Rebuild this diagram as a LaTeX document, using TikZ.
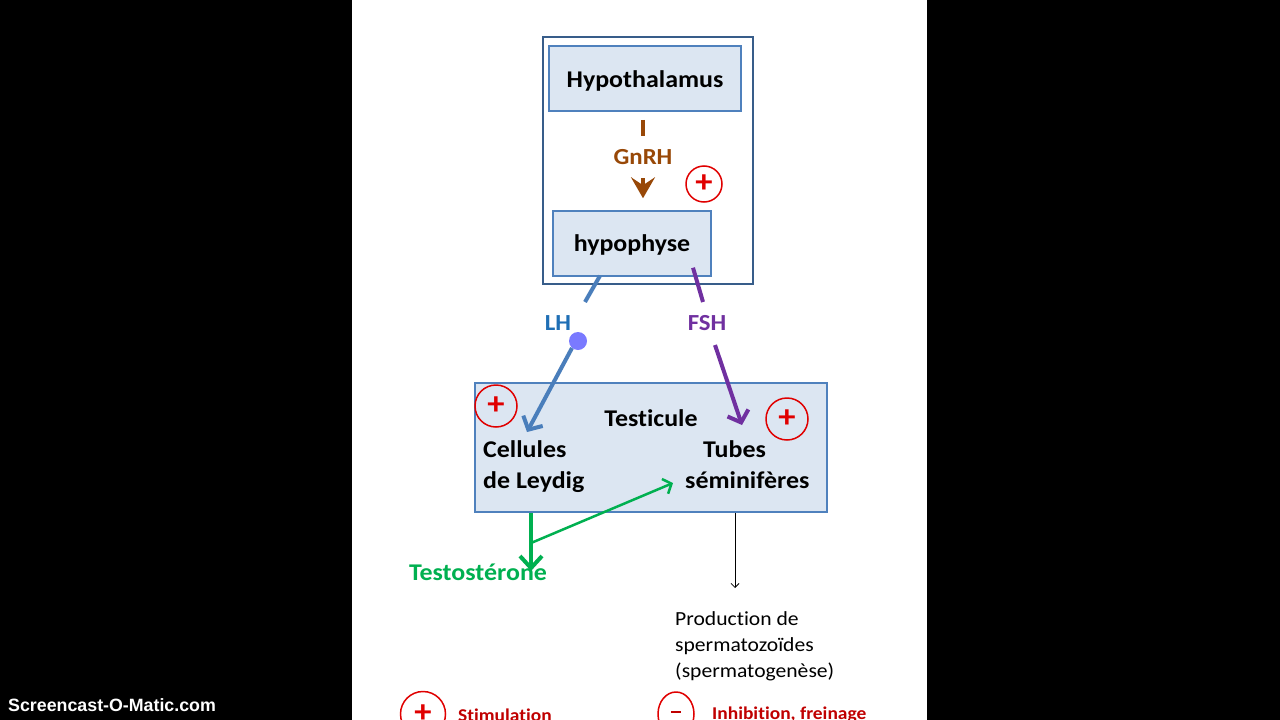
\documentclass[tikz,border=0pt]{standalone}
\usepackage{fontspec}
\setmainfont{Carlito}[FakeStretch=1.08, Ligatures={CommonOff}]
\newfontfamily\arialfont{Liberation Sans}
\usetikzlibrary{arrows.meta,shapes.geometric}
\definecolor{boxfill}{HTML}{DCE6F2}
\definecolor{boxline}{HTML}{4F81BD}
\definecolor{outerline}{HTML}{385D8A}
\definecolor{brownc}{HTML}{984807}
\definecolor{lhline}{HTML}{4A7EBB}
\definecolor{lhtext}{HTML}{1F6FB5}
\definecolor{fshc}{HTML}{7030A0}
\definecolor{greenc}{HTML}{00B050}
\definecolor{redc}{HTML}{E00000}
\definecolor{darkred}{HTML}{C00000}
\tikzset{
  organ/.style={draw=boxline, fill=boxfill, line width=1.5pt, inner sep=0pt,
    font=\fontsize{24}{28}\selectfont\bfseries},
  plussign/.style={circle, draw=redc, line width=1.5pt, inner sep=0pt, text=redc,
    font=\fontsize{32}{32}\selectfont\bfseries},
  hormone/.style={font=\fontsize{23}{26}\selectfont\bfseries, inner sep=0pt},
  celltext/.style={font=\fontsize{24}{31}\selectfont\bfseries, inner sep=0pt},
  legendtext/.style={anchor=west, inner sep=0pt, text=darkred, font=\fontsize{18}{20}\selectfont\bfseries},
}
\begin{document}
\begin{tikzpicture}[x=1pt,y=-1pt]
\fill[black] (0,0) rectangle (1280,720);
\fill[white] (352,0) rectangle (927,720);
\useasboundingbox (0,0) rectangle (1280,720);
\clip (0,0) rectangle (1280,720);

% outer frame
\node[draw=outerline, line width=1.5pt, minimum width=210pt, minimum height=247pt, inner sep=0pt] (outer) at (648,160.5) {};
\node[organ, minimum width=192pt, minimum height=65pt] (hypo) at (645,78.5) {};
\node[organ, draw=none, fill=none] (hypotext) at (645,81) {Hypothalamus};
\node[organ, minimum width=158pt, minimum height=65pt] (hyph) at (632,243.5) {};
\node[organ, draw=none, fill=none] (hyphtext) at (632,245) {hypophyse};

% GnRH
\node[hormone, text=brownc, minimum height=42pt] (gnrh) at (643,157) {GnRH};
\draw[brownc, line width=4pt, shorten <=8pt] (gnrh.center |- hypo.south) -- (gnrh.north);
\draw[brownc, line width=4pt, -{Stealth[length=21pt,width=24pt,inset=8pt]}, shorten >=12pt] (gnrh.south) -- (gnrh.center |- hyph.north);
\node[plussign, minimum size=36pt] (p1) at (704,184) {+};

% Testicule
\node[organ, minimum width=352pt, minimum height=129pt] (testi) at (651,447.5) {};
\node[celltext] (testlabel) at (651,418) {Testicule};
\node[celltext, anchor=north west, align=left] (leydig) at (483,440) {Cellules\\de Leydig};
\node[celltext, anchor=north west, align=left] (tubes) at (685,440) {\hspace{18pt}Tubes\\séminifères};
\node[plussign, minimum size=42pt] (p2) at (496,406) {+};
\node[plussign, minimum size=42pt] (p3) at (787,419) {+};

% LH
\node[hormone, text=lhtext] (lh) at (558,323) {LH};
\coordinate (lhA) at (585,302);
\coordinate (lhB) at (572,348);
\coordinate (lhtip) at (527,432);
\draw[lhline, line width=4pt] ([xshift=-32pt,yshift=1pt]hyph.south) -- (lhA);
\draw[lhline, line width=4pt, -{Straight Barb[length=10pt,width=22pt]}] (lhB) -- (lhtip);
\fill[blue!65!white, opacity=0.8] (578,341) circle (9);

% FSH
\node[hormone, text=fshc] (fsh) at (707,323) {FSH};
\coordinate (fshA) at (703,302);
\coordinate (fshB) at (715,345);
\coordinate (fshtip) at (742,425);
\draw[fshc, line width=4pt] ([xshift=61pt,yshift=9pt]hyph.south) -- (fshA);
\draw[fshc, line width=4pt, -{Straight Barb[length=10pt,width=22pt]}] (fshB) -- (fshtip);

% Testosterone
\node[hormone, text=greenc, font=\fontsize{24}{26}\selectfont\bfseries] (testo) at (478,572) {Testostérone};
\coordinate (gtop) at (531,513);
\coordinate (testotip) at (531,571);
\coordinate (gbranch) at (531,543);
\coordinate (tubestip) at (673,483);
\draw[greenc, line width=4pt, -{Straight Barb[length=12pt,width=22pt]}] (gtop) -- (testotip);
\draw[greenc, line width=2.5pt, -{Straight Barb[length=7pt,width=16pt]}] (gbranch) -- (tubestip);

% Production
\coordinate (prodtip) at (735,588);
\draw[black, line width=0.8pt, -{Straight Barb[length=4pt,width=8pt]}] ([xshift=84pt]testi.south) -- (prodtip);
\node[anchor=north west, align=left, inner sep=0pt, font=\fontsize{20}{26}\selectfont] (prod) at (675,611) {Production de\\spermatozoïdes\\(spermatogenèse)};

% legend
\node[plussign, minimum size=45pt] (lp) at (423,714) {+};
\node[legendtext] (lpt) at (458,715) {Stimulation};
\node[ellipse, draw=redc, line width=1.5pt, inner sep=0pt, minimum width=36pt, minimum height=44pt] (lm) at (676,714) {};
\draw[darkred, line width=2.5pt] ([xshift=-5pt,yshift=2pt]lm.center) -- ([xshift=5pt,yshift=2pt]lm.center);
\node[legendtext] (lmt) at (712,715) {Inhibition, freinage};

% watermark
\node[anchor=west, inner sep=0pt, text=white, font=\arialfont\bfseries\fontsize{17.8}{20}\selectfont] (wm) at (8,705) {Screencast-O-Matic.com};
\end{tikzpicture}
\end{document}
